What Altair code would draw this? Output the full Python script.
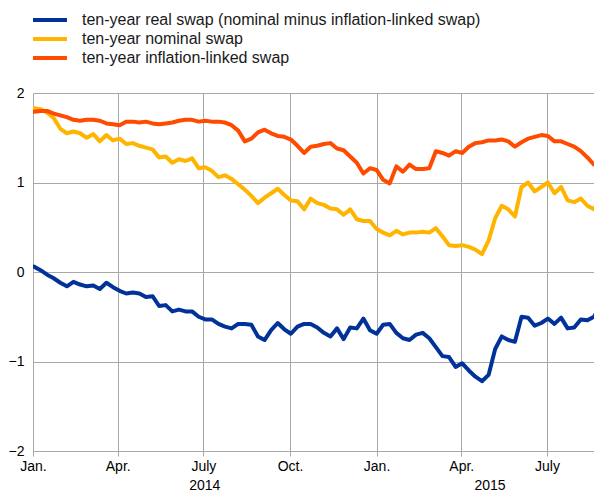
import altair as alt
import pandas as pd

series_names = [
    "ten-year real swap (nominal minus inflation-linked swap)",
    "ten-year nominal swap",
    "ten-year inflation-linked swap",
]
series_colors = ["#003299", "#FFB400", "#FF4B00"]

# weekly observations starting 2014-01-02
start_date = "2014-01-02"

real = [
    0.06, 0.02, -0.03, -0.07, -0.12, -0.16, -0.11, -0.14, -0.16, -0.15,
    -0.19, -0.12, -0.17, -0.21, -0.24, -0.23, -0.24, -0.28, -0.27, -0.38,
    -0.37, -0.44, -0.42, -0.44, -0.44, -0.50, -0.53, -0.53, -0.58, -0.61,
    -0.63, -0.58, -0.58, -0.59, -0.72, -0.76, -0.65, -0.57, -0.64, -0.69,
    -0.61, -0.58, -0.58, -0.62, -0.68, -0.72, -0.63, -0.75, -0.62, -0.63,
    -0.52, -0.65, -0.69, -0.59, -0.58, -0.68, -0.74, -0.76, -0.70, -0.68,
    -0.74, -0.84, -0.94, -0.95, -1.06, -1.02, -1.10, -1.17, -1.22, -1.15,
    -0.86, -0.72, -0.76, -0.78, -0.50, -0.51, -0.60, -0.57, -0.52, -0.58,
    -0.51, -0.63, -0.62, -0.53, -0.54, -0.50, -0.37,
]

nominal = [
    1.83, 1.82, 1.78, 1.72, 1.60, 1.55, 1.57, 1.55, 1.50, 1.54,
    1.46, 1.53, 1.47, 1.49, 1.43, 1.44, 1.41, 1.39, 1.37, 1.28,
    1.29, 1.22, 1.26, 1.24, 1.27, 1.16, 1.17, 1.13, 1.06, 1.08,
    1.04, 0.98, 0.92, 0.85, 0.77, 0.83, 0.88, 0.93, 0.86, 0.80,
    0.79, 0.70, 0.82, 0.77, 0.75, 0.71, 0.70, 0.64, 0.70, 0.59,
    0.57, 0.57, 0.48, 0.44, 0.41, 0.46, 0.42, 0.44, 0.44, 0.45,
    0.44, 0.49, 0.40, 0.30, 0.29, 0.30, 0.28, 0.25, 0.20, 0.35,
    0.60, 0.74, 0.70, 0.62, 0.95, 1.00, 0.90, 0.95, 1.00, 0.88,
    0.95, 0.80, 0.78, 0.82, 0.74, 0.70, 0.84,
]

inflation_linked = [
    1.79, 1.80, 1.80, 1.77, 1.75, 1.73, 1.70, 1.69, 1.70, 1.70,
    1.69, 1.66, 1.65, 1.64, 1.68, 1.68, 1.67, 1.68, 1.66, 1.65,
    1.66, 1.67, 1.69, 1.70, 1.70, 1.68, 1.69, 1.68, 1.68, 1.67,
    1.64, 1.58, 1.46, 1.49, 1.56, 1.59, 1.55, 1.52, 1.51, 1.48,
    1.41, 1.33, 1.40, 1.41, 1.43, 1.44, 1.38, 1.36, 1.29, 1.22,
    1.10, 1.16, 1.14, 1.03, 0.99, 1.18, 1.12, 1.20, 1.15, 1.15,
    1.16, 1.35, 1.33, 1.30, 1.35, 1.33, 1.40, 1.44, 1.45, 1.47,
    1.47, 1.48, 1.46, 1.40, 1.45, 1.49, 1.51, 1.53, 1.52, 1.46,
    1.46, 1.43, 1.40, 1.35, 1.28, 1.20, 1.22,
]

year_labels = ["2014", "2015"]
year_label_dates = ["2014-07-02", "2015-05-01"]

dates = pd.date_range(start_date, periods=len(real), freq="7D")
rows = []
for name, vals in zip(series_names, [real, nominal, inflation_linked]):
    for d, v in zip(dates, vals):
        rows.append({"date": d.strftime("%Y-%m-%d"), "series": name, "value": v})
df = pd.DataFrame(rows)
year_df = pd.DataFrame({"date": year_label_dates, "year": year_labels})

grid_color = "#a8a8a8"
font = "Liberation Sans"

x_scale = alt.Scale(domain=[alt.DateTime(year=2014, month=1, date=1),
                            alt.DateTime(year=2015, month=8, date=20)],
                    nice=False)

quarter_ticks = [alt.DateTime(year=y, month=m, date=1)
                 for y, m in [(2014, 1), (2014, 4), (2014, 7), (2014, 10),
                              (2015, 1), (2015, 4), (2015, 7)]]
year_ticks = [alt.DateTime(year=2014, month=7, date=2), alt.DateTime(year=2015, month=5, date=1)]

lines = alt.Chart(df).mark_line(strokeWidth=4, strokeJoin="round", strokeCap="round", clip=True).encode(
    x=alt.X("date:T", scale=x_scale,
            axis=alt.Axis(values=quarter_ticks,
                          labelExpr="month(datum.value)==0 ? 'Jan.' : month(datum.value)==3 ? 'Apr.' : month(datum.value)==6 ? 'July' : 'Oct.'",
                          grid=True, gridColor=grid_color, gridWidth=1,
                          domain=False, ticks=True, tickColor=grid_color, tickSize=5,
                          labelPadding=3, labelFontSize=14, labelColor="#000000",
                          labelFlush=False, labelOverlap=False, title=None, orient="bottom")),
    y=alt.Y("value:Q", scale=alt.Scale(domain=[-2, 2], nice=False),
            axis=alt.Axis(values=[-2, -1, 0, 1, 2], grid=True, gridColor=grid_color, gridWidth=1,
                          domain=False, ticks=False, labelPadding=9, labelFontSize=14,
                          labelColor="#000000", title=None)),
    color=alt.Color("series:N",
                    scale=alt.Scale(domain=series_names, range=series_colors),
                    sort=series_names,
                    legend=alt.Legend(title=None, orient="none", legendX=9, legendY=-81,
                                      direction="vertical", symbolType="M-2.83,0H2.83",
                                      symbolSize=144, symbolStrokeWidth=4,
                                      labelFontSize=16, labelColor="#1a1a1a",
                                      labelOffset=24, rowPadding=3, padding=0,
                                      labelLimit=0)),
)

years = alt.Chart(year_df).mark_point(opacity=0).encode(
    x=alt.X("date:T", scale=x_scale,
            axis=alt.Axis(values=year_ticks, labelExpr="timeFormat(datum.value, '%Y')",
                          grid=False, domain=False, ticks=False, tickSize=0,
                          labelPadding=27, labelFontSize=14, labelColor="#000000",
                          labelFlush=False, labelOverlap=False, title=None, orient="bottom")),
)

chart = alt.layer(lines, years).resolve_axis(x="independent").properties(
    width=561, height=358,
    autosize=alt.AutoSizeParams(type="none"),
    padding={"left": 25, "top": 85, "right": 0, "bottom": 40},
).configure(font=font).configure_view(stroke=None)

chart.save("out.html", embed_options={"renderer": "svg", "actions": False})
